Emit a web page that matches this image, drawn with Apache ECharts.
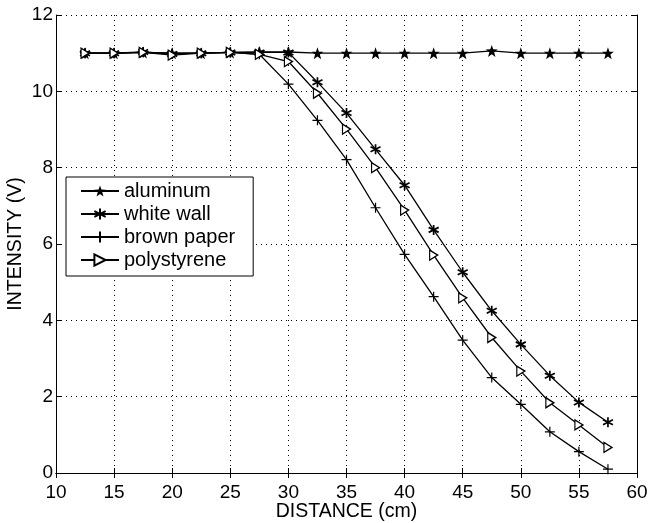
<!DOCTYPE html>
<html><head><meta charset="utf-8">
<script src="https://cdn.jsdelivr.net/npm/echarts@6/dist/echarts.min.js"></script>
<style>html,body{margin:0;padding:0;background:#fff}#c{width:652px;height:523px}</style>
</head><body><div id="c"></div>
<script>
const distance = [12.5,15,17.5,20,22.5,25,27.5,30,32.5,35,37.5,40,42.5,45,47.5,50,52.5,55,57.5];
const aluminum = [11,11,11.02,11,11,11.02,11.03,11.03,11,11,11,11,11,11,11.06,11,11,11,11];
const whiteWall = [11,11,11.03,10.98,11,11.02,11.02,11.02,10.24,9.43,8.48,7.54,6.37,5.26,4.25,3.37,2.55,1.85,1.33];
const brownPaper = [11,11,11.02,11,11,11.02,10.97,10.19,9.24,8.21,6.95,5.73,4.62,3.48,2.5,1.8,1.08,0.56,0.1];
const polystyrene = [11,11,11.02,10.95,11,11.02,10.97,10.78,9.95,9.01,8.0,6.89,5.71,4.59,3.55,2.67,1.84,1.26,0.67];
const xTicks = [10,15,20,25,30,35,40,45,50,55,60];
const yTicks = [0,2,4,6,8,10,12];
const seriesNames = ['aluminum','white wall','brown paper','polystyrene'];

const FONT = 'Liberation Sans, Arial, Helvetica, sans-serif';
const pair = arr => distance.map((x,i)=>[x,arr[i]]);
const starPath = 'path://M0,-10 L2.35,-3.24 L9.51,-3.09 L3.8,1.24 L5.88,8.09 L0,4 L-5.88,8.09 L-3.8,1.24 L-9.51,-3.09 L-2.35,-3.24 Z';
const astPath = 'path://M0,-5 L0,5 M-4.3,-2.5 L4.3,2.5 M-4.3,2.5 L4.3,-2.5';
const plusPath = 'path://M0,-5 L0,5 M-5,0 L5,0';
const triPath = 'path://M0,0 L9,5 L0,10 Z';

function mk(name, data, symbol, size, fill, bw){
  return {name, type:'line', data:pair(data), symbol, symbolSize:size,
    showAllSymbol:true, animation:false,
    lineStyle:{color:'#000', width:1.3},
    itemStyle:{color:fill, borderColor:'#000', borderWidth:bw}};
}
const baseAxis = {
  axisLine:{show:true,lineStyle:{color:'#000',width:1}},
  axisTick:{show:true,inside:true,length:5,lineStyle:{color:'#000'}},
};
const chart = echarts.init(document.getElementById('c'));
chart.setOption({
  backgroundColor:'#fff',
  animation:false,
  grid:{left:56,top:15,right:15,bottom:50,containLabel:false,outerBoundsMode:'none'},
  legend:{orient:'vertical',left:66,top:177,data:seriesNames,
    backgroundColor:'#fff',borderColor:'#000',borderWidth:1,borderRadius:0,
    padding:[4,18,6,14],itemWidth:38,itemHeight:14,itemGap:3,
    textStyle:{fontFamily:FONT,fontSize:20,color:'#000'}},
  xAxis:[
    Object.assign({type:'value',min:xTicks[0],max:xTicks[xTicks.length-1],interval:5,
      name:'DISTANCE (cm)',nameLocation:'middle',nameGap:29,nameMoveOverlap:false,
      nameTextStyle:{fontFamily:FONT,fontSize:19.5,color:'#000'},
      axisLabel:{fontFamily:FONT,fontSize:19,color:'#000',margin:10},
      splitLine:{show:true,lineStyle:{color:'#000',type:[1,4],width:1}}},baseAxis),
    Object.assign({type:'value',position:'top',min:xTicks[0],max:xTicks[xTicks.length-1],interval:5,
      axisLabel:{show:false},splitLine:{show:false}},baseAxis)
  ],
  yAxis:[
    Object.assign({type:'value',min:yTicks[0],max:yTicks[yTicks.length-1],interval:2,
      name:'INTENSITY (V)',nameLocation:'middle',nameGap:30,nameMoveOverlap:false,
      nameTextStyle:{fontFamily:FONT,fontSize:19.5,color:'#000'},
      axisLabel:{fontFamily:FONT,fontSize:19,color:'#000',margin:3},
      splitLine:{show:true,lineStyle:{color:'#000',type:[1,4],width:1}}},baseAxis),
    Object.assign({type:'value',position:'right',min:yTicks[0],max:yTicks[yTicks.length-1],interval:2,
      axisLabel:{show:false},splitLine:{show:false}},baseAxis)
  ],
  series:[
    mk(seriesNames[0], aluminum, starPath, 12, '#000', 0),
    mk(seriesNames[1], whiteWall, astPath, 10, '#000', 1.7),
    mk(seriesNames[2], brownPaper, plusPath, 10, '#000', 1.2),
    mk(seriesNames[3], polystyrene, triPath, [8,10], '#fff', 1.3)
  ]
});
</script></body></html>
